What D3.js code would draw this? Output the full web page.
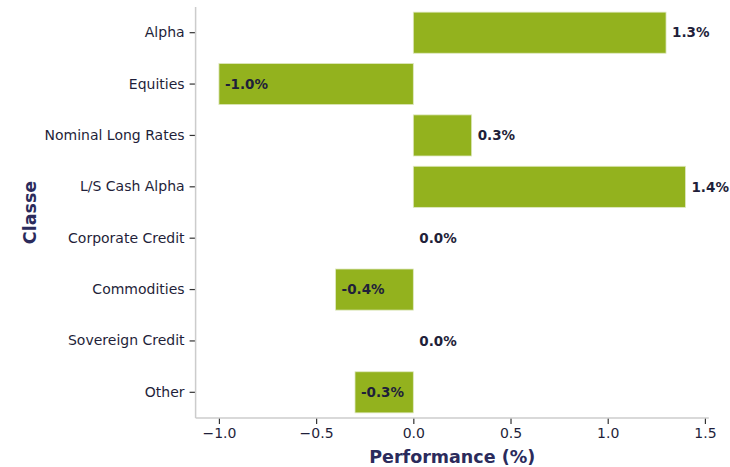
<!DOCTYPE html>
<html><head><meta charset="utf-8">
<script src="https://cdn.jsdelivr.net/npm/d3@7"></script>
<style>body{margin:0;background:#fff}svg{display:block}text{font-family:"DejaVu Sans",sans-serif}</style>
</head><body>
<script>
const categories = ["Alpha","Equities","Nominal Long Rates","L/S Cash Alpha","Corporate Credit","Commodities","Sovereign Credit","Other"];
const values = [1.3,-1.0,0.3,1.4,0.0,-0.4,0.0,-0.3];
const xTicks = [-1.0,-0.5,0.0,0.5,1.0,1.5];
const xTitle = "Performance (%)";
const yTitle = "Classe";

(function(){
const W=730,H=467;
const svg=d3.select("body").append("svg").attr("width",W).attr("height",H);
const pl=195.6,pr=708.8,pt=7,pb=418;
const x=d3.scaleLinear().domain([-1.12,1.52]).range([pl,pr]);
const y=d3.scaleBand().domain(categories).range([pt,pb]).paddingInner(0.2).paddingOuter(0.1);
const textCol="#1f1f3a", labelCol="#2b2b5c";

svg.append("g").selectAll("rect").data(values).join("rect")
 .attr("x",d=>x(Math.min(0,d))).attr("width",d=>Math.abs(x(d)-x(0)))
 .attr("y",(d,i)=>y(categories[i])).attr("height",y.bandwidth())
 .attr("fill","#93b21e").attr("stroke","#dfe8c0").attr("stroke-width",0.8);

svg.append("g").selectAll("text").data(values).join("text")
 .attr("x",d=>x(d)+6).attr("y",(d,i)=>y(categories[i])+y.bandwidth()/2)
 .attr("dy","0.35em").attr("font-size",13.5).attr("font-weight","bold").attr("fill",textCol)
 .text(d=>d.toFixed(1)+"%");

const xa=svg.append("g").attr("transform",`translate(0,${pb})`)
 .call(d3.axisBottom(x).tickValues(xTicks).tickSize(6).tickPadding(4).tickFormat(d=>d3.format(".1f")(d).replace("-","\u2212")));
xa.select(".domain").remove();
xa.selectAll(".tick line").attr("stroke","#333").attr("stroke-width",1.2);
xa.selectAll(".tick text").attr("font-size",14).attr("fill",textCol).attr("font-family","DejaVu Sans");
svg.append("line").attr("x1",pl).attr("x2",pr).attr("y1",pb).attr("y2",pb).attr("stroke","#cccccc").attr("stroke-width",1.5);

const ya=svg.append("g").attr("transform",`translate(${pl},0)`)
 .call(d3.axisLeft(y).tickSize(6).tickPadding(5));
ya.select(".domain").remove();
ya.selectAll(".tick line").attr("stroke","#333").attr("stroke-width",1.2);
ya.selectAll(".tick text").attr("font-size",14).attr("fill",textCol).attr("font-family","DejaVu Sans");
svg.append("line").attr("x1",pl).attr("x2",pl).attr("y1",pt).attr("y2",pb).attr("stroke","#cccccc").attr("stroke-width",1.5);

svg.append("text").attr("x",(pl+pr)/2).attr("y",463).attr("text-anchor","middle")
 .attr("font-size",17.5).attr("font-weight","bold").attr("fill",labelCol).text(xTitle);
svg.append("text").attr("transform",`translate(36,${(pt+pb)/2}) rotate(-90)`).attr("text-anchor","middle")
 .attr("font-size",17.5).attr("font-weight","bold").attr("fill",labelCol).text(yTitle);
})();
</script>
</body></html>
